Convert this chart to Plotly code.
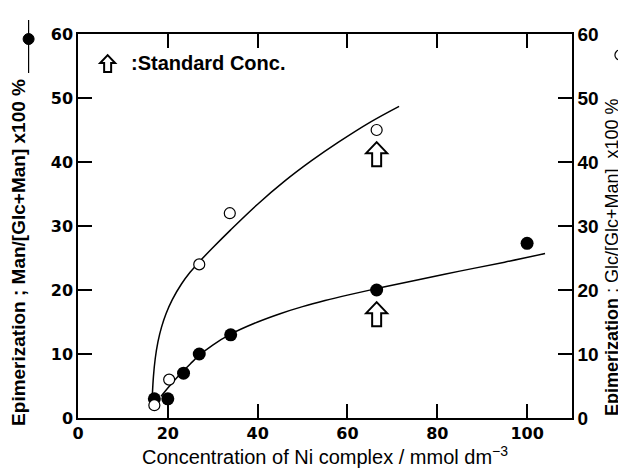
import plotly.graph_objects as go

# ---- data ----
man_x = [17, 20, 23.5, 27, 34, 66.5, 100]          # filled circles (left axis)
man_y = [3, 3, 7, 10, 13, 20, 27.3]
glc_x = [17, 20.3, 27, 33.8, 66.5]                  # open circles (right axis)
glc_y = [2, 6, 24, 32, 45]

man_fit_x = [18.5, 20, 22, 23.5, 25, 27, 30, 34, 40, 45, 50, 55, 60, 67, 75, 85, 95, 104]
man_fit_y = [3.4, 4.7, 6.3, 7.4, 8.45, 9.8, 11.4, 13.1, 15.0, 16.3, 17.4, 18.35, 19.2, 20.3, 21.5, 22.95, 24.35, 25.7]
glc_fit_x = [16.55, 16.8, 17.2, 17.8, 18.6, 19.6, 21, 23, 25, 27, 30, 34, 40, 46, 52, 58, 65, 71.5]
glc_fit_y = [3.5, 6.5, 9.3, 11.9, 14.2, 16.3, 18.5, 20.9, 22.8, 24.4, 26.6, 29.4, 33.4, 37.0, 40.2, 43.1, 46.2, 48.7]

std_arrow_x = [66.5, 66.5]      # standard concentration markers
std_arrow_y = [43.1, 18.1]      # arrow tip positions

x_ticks = [0, 20, 40, 60, 80, 100]
y_ticks = [0, 10, 20, 30, 40, 50, 60]

FONT = "Liberation Sans, Arial, sans-serif"
DIGITS = "DejaVu Sans, sans-serif"

fig = go.Figure()
fig.add_trace(go.Scatter(x=glc_fit_x, y=glc_fit_y, mode="lines", line=dict(color="black", width=1.5, shape="spline"),
                         yaxis="y2", showlegend=False, hoverinfo="skip"))
fig.add_trace(go.Scatter(x=man_fit_x, y=man_fit_y, mode="lines", line=dict(color="black", width=1.5, shape="spline"),
                         showlegend=False, hoverinfo="skip"))
fig.add_trace(go.Scatter(x=glc_x, y=glc_y, mode="markers", yaxis="y2",
                         marker=dict(symbol="circle", size=11, color="white", line=dict(color="black", width=1.2)),
                         showlegend=False))
fig.add_trace(go.Scatter(x=man_x, y=man_y, mode="markers",
                         marker=dict(symbol="circle", size=13, color="black", line=dict(color="black", width=0)),
                         showlegend=False))

arrow_path = "M 0 0 L 10.5 -11 L 4.5 -11 L 4.5 -24 L -4.5 -24 L -4.5 -11 L -10.5 -11 Z"
shapes = []
for ax_, ay_ in zip(std_arrow_x, std_arrow_y):
    shapes.append(dict(type="path", xref="x", yref="y", xsizemode="pixel", ysizemode="pixel",
                       xanchor=ax_, yanchor=ay_, path=arrow_path,
                       line=dict(color="black", width=2), fillcolor="white", layer="above"))
# legend arrow
small_arrow = "M 0 0 L 7.5 -8 L 3.5 -8 L 3.5 -17 L -3.5 -17 L -3.5 -8 L -7.5 -8 Z"
shapes.append(dict(type="path", xref="paper", yref="paper", xsizemode="pixel", ysizemode="pixel",
                   xanchor=0.06, yanchor=0.945, path=small_arrow,
                   line=dict(color="black", width=2), fillcolor="white", layer="above"))
# axis-title symbols
shapes.append(dict(type="line", xref="paper", yref="paper", xsizemode="pixel", ysizemode="pixel",
                   xanchor=-0.1, yanchor=1.0, x0=0, x1=0, y0=14, y1=-39, line=dict(color="black", width=1.2)))
shapes.append(dict(type="circle", xref="paper", yref="paper", xsizemode="pixel", ysizemode="pixel",
                   xanchor=-0.1, yanchor=1.0, x0=-5.5, x1=5.5, y0=0.5, y1=-10.5,
                   line=dict(color="black", width=1), fillcolor="black"))
shapes.append(dict(type="line", xref="paper", yref="paper", xsizemode="pixel", ysizemode="pixel",
                   xanchor=1.097, yanchor=1.0, x0=0, x1=0, y0=9, y1=-46, line=dict(color="black", width=1.2)))
shapes.append(dict(type="circle", xref="paper", yref="paper", xsizemode="pixel", ysizemode="pixel",
                   xanchor=1.097, yanchor=1.0, x0=-5, x1=5, y0=-16, y1=-26,
                   line=dict(color="black", width=1.2), fillcolor="white"))

annotations = [
    dict(text="<b>:Standard Conc.</b>", xref="paper", yref="paper", x=0.104, y=0.924,
         xanchor="left", yanchor="middle", showarrow=False, font=dict(family=FONT, size=20, color="black")),
    dict(text="<b>Epimerization ; Man/[Glc+Man] x100 %</b>", xref="paper", yref="paper",
         x=-0.1194, y=0.43, xanchor="center", yanchor="middle", textangle=-90, showarrow=False,
         font=dict(family=FONT, size=19, color="black")),
    dict(text="<b>Epimerization</b> ; Glc/[Glc+Man]  x100 %", xref="paper", yref="paper",
         x=1.081, y=0.419, xanchor="center", yanchor="middle", textangle=-90, showarrow=False,
         font=dict(family=FONT, size=18, color="black")),
]

axis_common = dict(showgrid=False, zeroline=False, ticks="inside", ticklen=14, tickwidth=1.5,
                   linecolor="black", linewidth=1.5, tickcolor="black", showline=True)

fig.update_layout(
    width=626, height=472,
    margin=dict(l=70, r=62, t=26, b=62),
    plot_bgcolor="white", paper_bgcolor="white",
    font=dict(family=FONT, color="black"),
    xaxis=dict(range=[0, 110], tickvals=x_ticks, mirror="ticks",
               tickfont=dict(family=DIGITS, size=16, weight="bold"),
               title=dict(text="Concentration of Ni complex / mmol dm<sup>−3</sup>",
                          font=dict(family=FONT, size=20), standoff=6),
               **axis_common),
    yaxis=dict(range=[0, 60], tickvals=y_ticks, mirror=True,
               tickfont=dict(family=DIGITS, size=16, weight="bold"), **axis_common),
    yaxis2=dict(range=[0, 60], tickvals=y_ticks, overlaying="y", side="right",
                tickfont=dict(family=FONT, size=19, weight="bold"), **axis_common),
    shapes=shapes, annotations=annotations,
)

fig.write_html("out.html")
